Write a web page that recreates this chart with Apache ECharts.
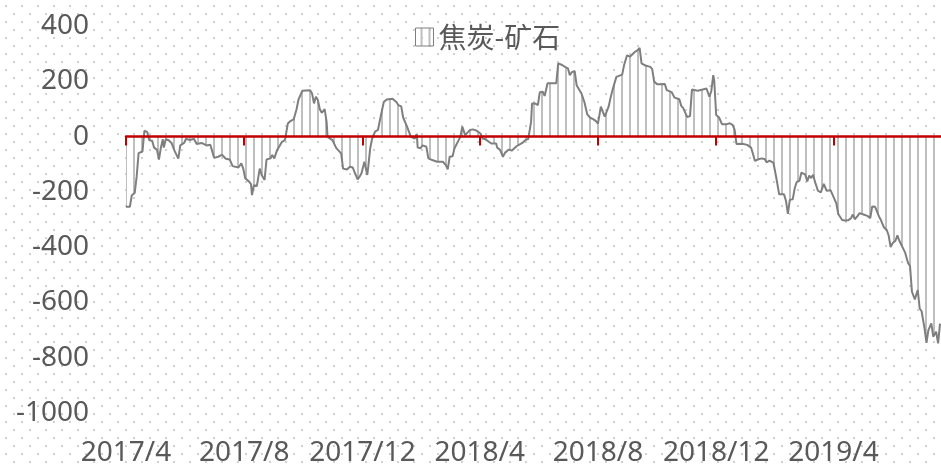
<!DOCTYPE html>
<html>
<head>
<meta charset="utf-8">
<script src="https://cdn.jsdelivr.net/npm/echarts@6/dist/echarts.min.js"></script>
<style>
html, body { margin: 0; padding: 0; background: #fff; }
#main { width: 941px; height: 468px; }
</style>
</head>
<body>
<div id="main"></div>
<script>
// 焦炭-矿石 价差
var seriesName = '焦炭-矿石';
var startDate = '2017-04-01';
var endDate = '2019-07-21';
var tickDates = ['2017-04-01', '2017-08-01', '2017-12-01', '2018-04-01', '2018-08-01', '2018-12-01', '2019-04-01'];

var dates = [
  '2017-04-01','2017-04-05','2017-04-07','2017-04-10','2017-04-12','2017-04-14','2017-04-18','2017-04-20','2017-04-23','2017-04-25',
  '2017-04-28','2017-04-30','2017-05-03','2017-05-05','2017-05-07','2017-05-09','2017-05-10','2017-05-12','2017-05-15','2017-05-18',
  '2017-05-21','2017-05-23','2017-05-25','2017-05-27','2017-05-31','2017-06-02','2017-06-06','2017-06-10','2017-06-13','2017-06-18',
  '2017-06-23','2017-06-27','2017-06-29','2017-07-01','2017-07-02','2017-07-05','2017-07-09','2017-07-13','2017-07-17','2017-07-20',
  '2017-07-26','2017-07-29','2017-07-31','2017-08-02','2017-08-06','2017-08-08','2017-08-09','2017-08-11','2017-08-14','2017-08-17',
  '2017-08-19','2017-08-22','2017-08-24','2017-08-28','2017-08-30','2017-09-01','2017-09-04','2017-09-06','2017-09-09','2017-09-12',
  '2017-09-15','2017-09-18','2017-09-21','2017-09-24','2017-09-26','2017-09-30','2017-10-08','2017-10-10','2017-10-12','2017-10-14',
  '2017-10-16','2017-10-18','2017-10-20','2017-10-23','2017-10-25','2017-10-26','2017-10-31','2017-11-02','2017-11-04','2017-11-06',
  '2017-11-09','2017-11-11','2017-11-15','2017-11-18','2017-11-21','2017-11-23','2017-11-26','2017-11-28','2017-11-30','2017-12-03',
  '2017-12-06','2017-12-07','2017-12-09','2017-12-11','2017-12-14','2017-12-17','2017-12-19','2017-12-21','2017-12-23','2017-12-26',
  '2017-12-28','2018-01-01','2018-01-05','2018-01-07','2018-01-10','2018-01-12','2018-01-14','2018-01-16','2018-01-17','2018-01-20',
  '2018-01-22','2018-01-24','2018-01-26','2018-01-27','2018-01-30','2018-02-01','2018-02-05','2018-02-07','2018-02-11','2018-02-16',
  '2018-02-22','2018-02-25','2018-02-27','2018-03-01','2018-03-04','2018-03-06','2018-03-08','2018-03-12','2018-03-14','2018-03-15',
  '2018-03-17','2018-03-19','2018-03-22','2018-03-25','2018-03-29','2018-03-31','2018-04-02','2018-04-04','2018-04-07','2018-04-09',
  '2018-04-13','2018-04-15','2018-04-18','2018-04-19','2018-04-22','2018-04-25','2018-04-27','2018-04-29','2018-05-01','2018-05-04',
  '2018-05-06','2018-05-09','2018-05-11','2018-05-15','2018-05-18','2018-05-21','2018-05-24','2018-05-25','2018-05-28','2018-05-31',
  '2018-06-02','2018-06-05','2018-06-07','2018-06-10','2018-06-19','2018-06-21','2018-06-25','2018-06-28','2018-07-01','2018-07-03',
  '2018-07-05','2018-07-08','2018-07-10','2018-07-12','2018-07-15','2018-07-18','2018-07-21','2018-07-24','2018-07-27','2018-07-30',
  '2018-08-01','2018-08-04','2018-08-06','2018-08-08','2018-08-10','2018-08-12','2018-08-14','2018-08-16','2018-08-20','2018-08-22',
  '2018-08-26','2018-08-28','2018-08-31','2018-09-03','2018-09-05','2018-09-08','2018-09-11','2018-09-13','2018-09-15','2018-09-19',
  '2018-09-24','2018-09-26','2018-09-28','2018-10-01','2018-10-09','2018-10-11','2018-10-16','2018-10-19','2018-10-24','2018-10-26',
  '2018-10-28','2018-11-01','2018-11-04','2018-11-06','2018-11-12','2018-11-17','2018-11-21','2018-11-24','2018-11-26','2018-11-28',
  '2018-11-29','2018-12-01','2018-12-04','2018-12-07','2018-12-12','2018-12-15','2018-12-18','2018-12-20','2018-12-22','2018-12-28',
  '2019-01-02','2019-01-06','2019-01-08','2019-01-10','2019-01-13','2019-01-17','2019-01-20','2019-01-22','2019-01-25','2019-01-29',
  '2019-02-01','2019-02-04','2019-02-09','2019-02-11','2019-02-13','2019-02-15','2019-02-18','2019-02-20','2019-02-22','2019-02-25',
  '2019-02-27','2019-03-03','2019-03-05','2019-03-07','2019-03-09','2019-03-11','2019-03-13','2019-03-16','2019-03-19','2019-03-22',
  '2019-03-25','2019-03-29','2019-03-31','2019-04-04','2019-04-06','2019-04-08','2019-04-10','2019-04-13','2019-04-16','2019-04-19',
  '2019-04-21','2019-04-23','2019-04-26','2019-04-28','2019-05-02','2019-05-06','2019-05-09','2019-05-11','2019-05-14','2019-05-16',
  '2019-05-18','2019-05-20','2019-05-23','2019-05-26','2019-05-28','2019-05-30','2019-06-01','2019-06-04','2019-06-06','2019-06-08',
  '2019-06-10','2019-06-14','2019-06-17','2019-06-19','2019-06-21','2019-06-24','2019-06-27','2019-06-29','2019-07-01','2019-07-04',
  '2019-07-06','2019-07-08','2019-07-11','2019-07-13','2019-07-16','2019-07-18','2019-07-20'
];

var values = [
  -254,-254,-212,-204,-145,-60,-54,21,16,-13,
  -15,-40,-48,-83,-40,-10,-40,-10,-13,-23,
  -51,-56,-80,-32,-23,-8,-13,-8,-27,-23,
  -32,-30,-35,-77,-80,-73,-66,-80,-83,-107,
  -112,-97,-116,-151,-163,-172,-212,-176,-179,-116,
  -139,-157,-83,-79,-67,-79,-48,-37,-19,-13,
  47,57,62,99,134,166,168,156,120,144,
  132,99,86,99,53,-1,-13,-7,-42,-48,
  -61,-116,-119,-109,-112,-130,-155,-145,-133,-91,
  -139,-109,-42,-7,18,24,59,65,125,134,
  141,137,125,114,109,69,62,36,30,-1,
  -4,-7,10,-40,-42,-32,-37,-79,-85,-91,
  -91,-103,-119,-73,-71,-42,-35,-1,36,38,
  5,2,24,26,21,18,10,-7,-10,-3,
  -25,-30,-25,-40,-48,-73,-59,-63,-47,-51,
  -48,-35,-40,-23,-13,-9,53,120,120,114,
  160,162,147,193,193,265,259,252,247,222,
  233,237,186,180,156,125,80,68,63,56,
  47,108,108,72,77,108,140,168,216,222,
  224,259,294,289,282,306,313,321,265,257,
  252,244,199,189,190,168,161,141,135,111,
  103,71,74,170,166,170,174,144,165,222,
  203,78,69,45,45,48,42,25,-27,-26,
  -30,-40,-63,-88,-83,-79,-81,-93,-87,-94,
  -148,-209,-209,-232,-280,-229,-227,-188,-165,-159,
  -130,-138,-162,-141,-150,-138,-164,-196,-202,-171,
  -196,-194,-198,-242,-280,-282,-302,-304,-303,-296,
  -282,-299,-287,-277,-282,-287,-295,-253,-254,-258,
  -289,-302,-328,-338,-358,-400,-386,-377,-357,-377,
  -377,-420,-457,-468,-561,-589,-555,-622,-632,-694,
  -746,-700,-676,-724,-706,-748,-677
];

//日期转换为距起始日的天数
function toUTC(s) {
    var p = s.split('-');
    return Date.UTC(+p[0], +p[1] - 1, +p[2]);
}
var baseTime = toUTC(startDate);
function dayOf(s) {
    return Math.round((toUTC(s) - baseTime) / 86400000);
}

var points = dates.map(function (d, i) { return [dayOf(d), values[i]]; });
var tickDays = tickDates.map(dayOf);

//图案：竖线填充、点状背景
function makeTile(w, h, draw) {
    var c = document.createElement('canvas');
    c.width = w;
    c.height = h;
    draw(c.getContext('2d'));
    return c;
}
var hatchTile = makeTile(8, 8, function (ctx) {
    ctx.fillStyle = '#bfbfbf';
    ctx.fillRect(5, 0, 2, 8);
});
var dotTile = makeTile(16, 16, function (ctx) {
    ctx.fillStyle = '#ffffff';
    ctx.fillRect(0, 0, 16, 16);
    ctx.fillStyle = '#d0d0d0';
    ctx.fillRect(5, 5, 2, 2);
    ctx.fillRect(13, 13, 2, 2);
});

var chartMain = document.getElementById('main');
var mychart = echarts.init(chartMain, null, { renderer: 'canvas' });

var option = {
    animation: false,
    backgroundColor: { image: dotTile, repeat: 'repeat' },
    textStyle: { fontFamily: 'Noto Sans' },
    legend: {
        left: 415,
        top: 23,
        padding: 0,
        itemWidth: 18,
        itemHeight: 18,
        icon: 'rect',
        itemStyle: {
            color: { image: hatchTile, repeat: 'repeat' },
            borderColor: '#7f7f7f',
            borderWidth: 1
        },
        textStyle: {
            fontFamily: 'Noto Sans CJK SC',
            fontSize: 28,
            color: '#595959'
        },
        data: [seriesName]
    },
    grid: {
        left: 126,
        right: 0,
        top: 26,
        bottom: 55
    },
    xAxis: [
        {
            type: 'value',
            min: 0,
            max: dayOf(endDate),
            z: 5,
            axisLine: {
                onZero: true,
                lineStyle: { color: '#c00000', width: 2.5 }
            },
            axisTick: {
                customValues: tickDays,
                length: 9,
                lineStyle: { color: '#c00000', width: 2 }
            },
            axisLabel: { show: false },
            splitLine: { show: false }
        },
        {
            type: 'value',
            min: 0,
            max: dayOf(endDate),
            position: 'bottom',
            axisLine: { show: false, onZero: false },
            axisTick: { show: false },
            axisLabel: {
                customValues: tickDays,
                fontSize: 28,
                color: '#595959',
                margin: 26,
                formatter: function (value) {
                    var d = new Date(baseTime + value * 86400000 + 43200000);
                    return d.getUTCFullYear() + '/' + (d.getUTCMonth() + 1);
                }
            },
            splitLine: { show: false }
        }
    ],
    yAxis: {
        type: 'value',
        min: -1000,
        max: 400,
        interval: 200,
        axisLine: { show: false },
        axisTick: { show: false },
        splitLine: { show: false },
        axisLabel: {
            fontSize: 28,
            color: '#595959',
            margin: 37,
            formatter: function (value) {
                return String(value);
            }
        }
    },
    series: [
        {
            name: seriesName,
            type: 'line',
            xAxisIndex: 0,
            data: points,
            symbol: 'none',
            showSymbol: false,
            lineStyle: { color: '#7f7f7f', width: 2 },
            itemStyle: { color: '#7f7f7f' },
            areaStyle: {
                color: { image: hatchTile, repeat: 'repeat' },
                opacity: 1
            }
        }
    ]
};

mychart.setOption(option);
</script>
</body>
</html>
